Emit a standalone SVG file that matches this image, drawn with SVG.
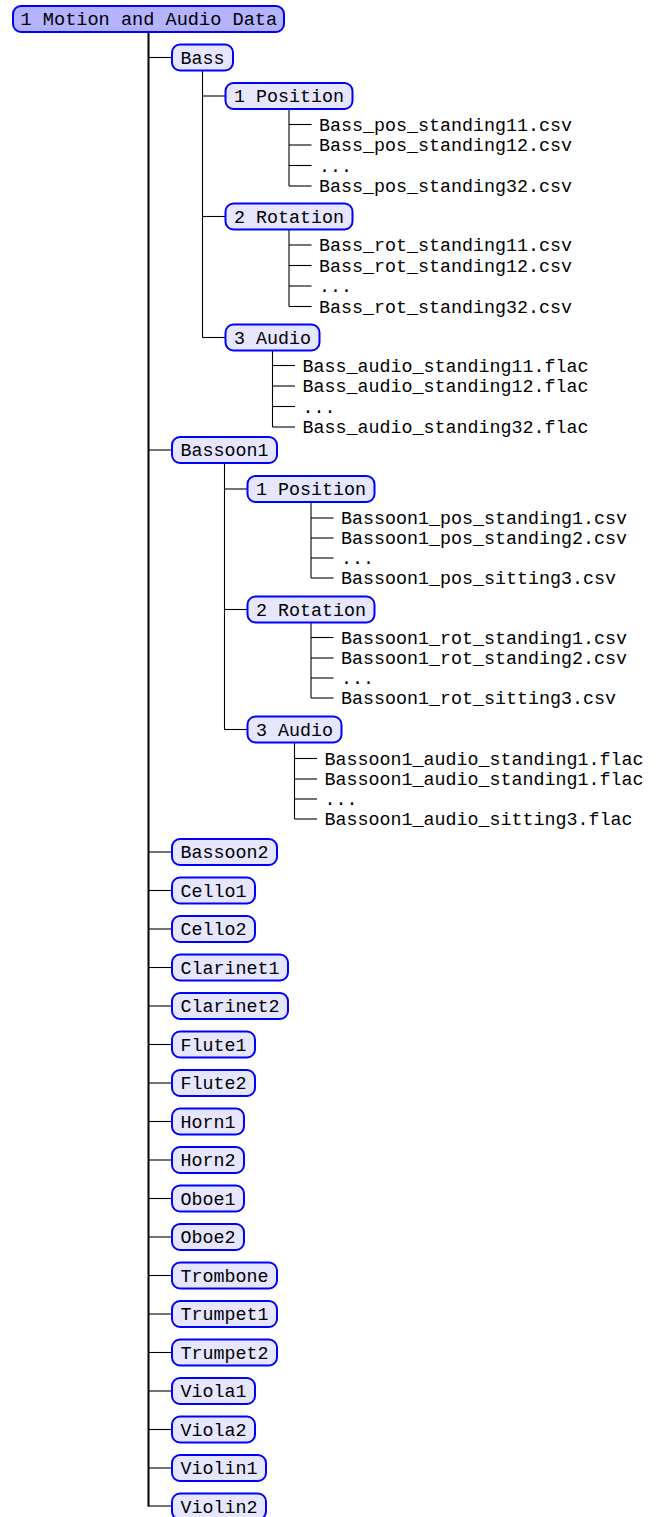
<svg xmlns="http://www.w3.org/2000/svg" width="659" height="1517" viewBox="0 0 659 1517">
<style>
.b{fill:#e6e6ff;stroke:#0000ff;stroke-width:2}
.r{fill:#b3b3ff;stroke:#0000ff;stroke-width:2}
text{font-family:"Liberation Mono","DejaVu Sans Mono",monospace;font-size:18.33px;fill:#000}
.c line{stroke:#000;stroke-width:1.1;fill:none}
.c .m{stroke-width:2}
</style>
<rect width="659" height="1517" fill="#fff"/>
<g class="c" id="connectors">
<line class="m" x1="148.5" y1="32" x2="148.5" y2="1506.5"/>
<line x1="148.5" y1="57.5" x2="172" y2="57.5"/>
<line x1="148.5" y1="450" x2="172" y2="450"/>
<line x1="148.5" y1="852" x2="172" y2="852"/>
<line x1="148.5" y1="890.5" x2="172" y2="890.5"/>
<line x1="148.5" y1="929" x2="172" y2="929"/>
<line x1="148.5" y1="967.5" x2="172" y2="967.5"/>
<line x1="148.5" y1="1006" x2="172" y2="1006"/>
<line x1="148.5" y1="1044.5" x2="172" y2="1044.5"/>
<line x1="148.5" y1="1083" x2="172" y2="1083"/>
<line x1="148.5" y1="1121.5" x2="172" y2="1121.5"/>
<line x1="148.5" y1="1160" x2="172" y2="1160"/>
<line x1="148.5" y1="1198.5" x2="172" y2="1198.5"/>
<line x1="148.5" y1="1237" x2="172" y2="1237"/>
<line x1="148.5" y1="1275.5" x2="172" y2="1275.5"/>
<line x1="148.5" y1="1314" x2="172" y2="1314"/>
<line x1="148.5" y1="1352.5" x2="172" y2="1352.5"/>
<line x1="148.5" y1="1391" x2="172" y2="1391"/>
<line x1="148.5" y1="1429.5" x2="172" y2="1429.5"/>
<line x1="148.5" y1="1468" x2="172" y2="1468"/>
<line x1="148.5" y1="1506" x2="172" y2="1506"/>
<line x1="202.5" y1="70.5" x2="202.5" y2="337.5"/>
<line x1="202.5" y1="96" x2="225.5" y2="96"/>
<line x1="202.5" y1="216.5" x2="225.5" y2="216.5"/>
<line x1="202.5" y1="337.5" x2="225.5" y2="337.5"/>
<line x1="289" y1="109" x2="289" y2="186"/>
<line x1="289" y1="124.5" x2="311.5" y2="124.5"/>
<line x1="289" y1="145" x2="311.5" y2="145"/>
<line x1="289" y1="165.5" x2="311.5" y2="165.5"/>
<line x1="289" y1="186" x2="311.5" y2="186"/>
<line x1="289" y1="229.5" x2="289" y2="306.5"/>
<line x1="289" y1="245" x2="311.5" y2="245"/>
<line x1="289" y1="265.5" x2="311.5" y2="265.5"/>
<line x1="289" y1="286" x2="311.5" y2="286"/>
<line x1="289" y1="306.5" x2="311.5" y2="306.5"/>
<line x1="272.5" y1="350.5" x2="272.5" y2="427"/>
<line x1="272.5" y1="365.5" x2="295" y2="365.5"/>
<line x1="272.5" y1="386" x2="295" y2="386"/>
<line x1="272.5" y1="406.5" x2="295" y2="406.5"/>
<line x1="272.5" y1="427" x2="295" y2="427"/>
<line x1="224.5" y1="463" x2="224.5" y2="729.5"/>
<line x1="224.5" y1="489" x2="247.5" y2="489"/>
<line x1="224.5" y1="609.5" x2="247.5" y2="609.5"/>
<line x1="224.5" y1="729.5" x2="247.5" y2="729.5"/>
<line x1="311" y1="502" x2="311" y2="578"/>
<line x1="311" y1="518" x2="333.5" y2="518"/>
<line x1="311" y1="538" x2="333.5" y2="538"/>
<line x1="311" y1="558" x2="333.5" y2="558"/>
<line x1="311" y1="578" x2="333.5" y2="578"/>
<line x1="311" y1="622.5" x2="311" y2="698"/>
<line x1="311" y1="637.5" x2="333.5" y2="637.5"/>
<line x1="311" y1="658" x2="333.5" y2="658"/>
<line x1="311" y1="678" x2="333.5" y2="678"/>
<line x1="311" y1="698" x2="333.5" y2="698"/>
<line x1="294.5" y1="742.5" x2="294.5" y2="819"/>
<line x1="294.5" y1="758.5" x2="317" y2="758.5"/>
<line x1="294.5" y1="779" x2="317" y2="779"/>
<line x1="294.5" y1="799" x2="317" y2="799"/>
<line x1="294.5" y1="819" x2="317" y2="819"/>
</g>
<g id="root"><rect class="r" x="13" y="6" width="271" height="26" rx="8"/><text x="20.5" y="25" style="font-size:18.6px">1 Motion and Audio Data</text></g>
<g id="bass"><rect class="b" x="172" y="44.5" width="61" height="26" rx="8"/><text x="180.5" y="63.5">Bass</text></g>
<g id="bass-pos"><rect class="b" x="225.5" y="83" width="127" height="26" rx="8"/><text x="234" y="102">1 Position</text></g>
<g id="bass-pos-f1"><text x="319" y="130.5">Bass_pos_standing11.csv</text></g>
<g id="bass-pos-f2"><text x="319" y="151">Bass_pos_standing12.csv</text></g>
<g id="bass-pos-f3"><text x="319" y="171.5">...</text></g>
<g id="bass-pos-f4"><text x="319" y="192">Bass_pos_standing32.csv</text></g>
<g id="bass-rot"><rect class="b" x="225.5" y="203.5" width="127" height="26" rx="8"/><text x="234" y="222.5">2 Rotation</text></g>
<g id="bass-rot-f1"><text x="319" y="251">Bass_rot_standing11.csv</text></g>
<g id="bass-rot-f2"><text x="319" y="271.5">Bass_rot_standing12.csv</text></g>
<g id="bass-rot-f3"><text x="319" y="292">...</text></g>
<g id="bass-rot-f4"><text x="319" y="312.5">Bass_rot_standing32.csv</text></g>
<g id="bass-audio"><rect class="b" x="225.5" y="324.5" width="94" height="26" rx="8"/><text x="234" y="343.5">3 Audio</text></g>
<g id="bass-audio-f1"><text x="302.5" y="371.5">Bass_audio_standing11.flac</text></g>
<g id="bass-audio-f2"><text x="302.5" y="392">Bass_audio_standing12.flac</text></g>
<g id="bass-audio-f3"><text x="302.5" y="412.5">...</text></g>
<g id="bass-audio-f4"><text x="302.5" y="433">Bass_audio_standing32.flac</text></g>
<g id="bassoon1"><rect class="b" x="172" y="437" width="105" height="26" rx="8"/><text x="180.5" y="456">Bassoon1</text></g>
<g id="bsn1-pos"><rect class="b" x="247.5" y="476" width="127" height="26" rx="8"/><text x="256" y="495">1 Position</text></g>
<g id="bsn1-pos-f1"><text x="341" y="524">Bassoon1_pos_standing1.csv</text></g>
<g id="bsn1-pos-f2"><text x="341" y="544">Bassoon1_pos_standing2.csv</text></g>
<g id="bsn1-pos-f3"><text x="341" y="564">...</text></g>
<g id="bsn1-pos-f4"><text x="341" y="584">Bassoon1_pos_sitting3.csv</text></g>
<g id="bsn1-rot"><rect class="b" x="247.5" y="596.5" width="127" height="26" rx="8"/><text x="256" y="615.5">2 Rotation</text></g>
<g id="bsn1-rot-f1"><text x="341" y="643.5">Bassoon1_rot_standing1.csv</text></g>
<g id="bsn1-rot-f2"><text x="341" y="664">Bassoon1_rot_standing2.csv</text></g>
<g id="bsn1-rot-f3"><text x="341" y="684">...</text></g>
<g id="bsn1-rot-f4"><text x="341" y="704">Bassoon1_rot_sitting3.csv</text></g>
<g id="bsn1-audio"><rect class="b" x="247.5" y="716.5" width="94" height="26" rx="8"/><text x="256" y="735.5">3 Audio</text></g>
<g id="bsn1-audio-f1"><text x="324.5" y="764.5">Bassoon1_audio_standing1.flac</text></g>
<g id="bsn1-audio-f2"><text x="324.5" y="785">Bassoon1_audio_standing1.flac</text></g>
<g id="bsn1-audio-f3"><text x="324.5" y="805">...</text></g>
<g id="bsn1-audio-f4"><text x="324.5" y="825">Bassoon1_audio_sitting3.flac</text></g>
<g id="bassoon2"><rect class="b" x="172" y="839" width="105" height="26" rx="8"/><text x="180.5" y="858">Bassoon2</text></g>
<g id="cello1"><rect class="b" x="172" y="877.5" width="83" height="26" rx="8"/><text x="180.5" y="896.5">Cello1</text></g>
<g id="cello2"><rect class="b" x="172" y="916" width="83" height="26" rx="8"/><text x="180.5" y="935">Cello2</text></g>
<g id="clarinet1"><rect class="b" x="172" y="954.5" width="116" height="26" rx="8"/><text x="180.5" y="973.5">Clarinet1</text></g>
<g id="clarinet2"><rect class="b" x="172" y="993" width="116" height="26" rx="8"/><text x="180.5" y="1012">Clarinet2</text></g>
<g id="flute1"><rect class="b" x="172" y="1031.5" width="83" height="26" rx="8"/><text x="180.5" y="1050.5">Flute1</text></g>
<g id="flute2"><rect class="b" x="172" y="1070" width="83" height="26" rx="8"/><text x="180.5" y="1089">Flute2</text></g>
<g id="horn1"><rect class="b" x="172" y="1108.5" width="72" height="26" rx="8"/><text x="180.5" y="1127.5">Horn1</text></g>
<g id="horn2"><rect class="b" x="172" y="1147" width="72" height="26" rx="8"/><text x="180.5" y="1166">Horn2</text></g>
<g id="oboe1"><rect class="b" x="172" y="1185.5" width="72" height="26" rx="8"/><text x="180.5" y="1204.5">Oboe1</text></g>
<g id="oboe2"><rect class="b" x="172" y="1224" width="72" height="26" rx="8"/><text x="180.5" y="1243">Oboe2</text></g>
<g id="trombone"><rect class="b" x="172" y="1262.5" width="105" height="26" rx="8"/><text x="180.5" y="1281.5">Trombone</text></g>
<g id="trumpet1"><rect class="b" x="172" y="1301" width="105" height="26" rx="8"/><text x="180.5" y="1320">Trumpet1</text></g>
<g id="trumpet2"><rect class="b" x="172" y="1339.5" width="105" height="26" rx="8"/><text x="180.5" y="1358.5">Trumpet2</text></g>
<g id="viola1"><rect class="b" x="172" y="1378" width="83" height="26" rx="8"/><text x="180.5" y="1397">Viola1</text></g>
<g id="viola2"><rect class="b" x="172" y="1416.5" width="83" height="26" rx="8"/><text x="180.5" y="1435.5">Viola2</text></g>
<g id="violin1"><rect class="b" x="172" y="1455" width="94" height="26" rx="8"/><text x="180.5" y="1474">Violin1</text></g>
<g id="violin2"><rect class="b" x="172" y="1493.5" width="94" height="26" rx="8"/><text x="180.5" y="1512.5">Violin2</text></g>
</svg>
